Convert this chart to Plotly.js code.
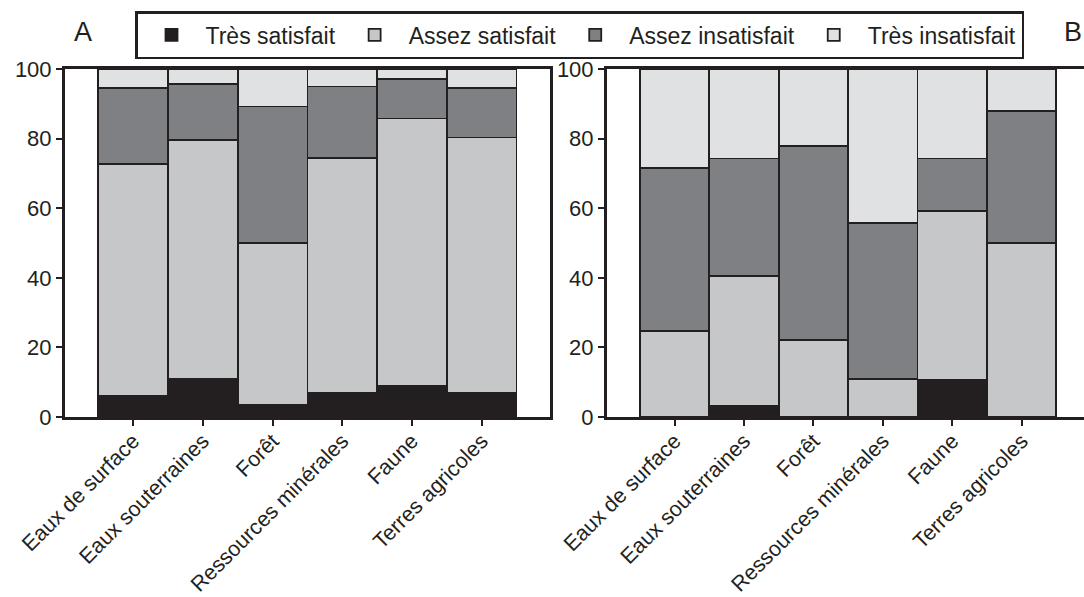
<!DOCTYPE html>
<html>
<head>
<meta charset="utf-8">
<script src="https://cdn.plot.ly/plotly-3.0.1.min.js"></script>
<style>html,body{margin:0;padding:0;background:#fff;}#chart{width:1084px;height:597px;}</style>
</head>
<body>
<div id="chart"></div>
<script>
const categories = ["Eaux de surface", "Eaux souterraines", "Forêt", "Ressources minérales", "Faune", "Terres agricoles"];
const seriesNames = ["Très satisfait", "Assez satisfait", "Assez insatisfait", "Très insatisfait"];

// Panel A
const aTresSatisfait    = [6.0, 11.0, 3.5, 6.9, 8.9, 6.9];
const aAssezSatisfait   = [66.7, 68.7, 46.5, 67.6, 76.9, 73.4];
const aAssezInsatisfait = [21.8, 16.0, 39.2, 20.5, 11.3, 14.2];
const aTresInsatisfait  = [5.5, 4.3, 10.8, 5.0, 2.9, 5.5];

// Panel B
const bTresSatisfait    = [0, 3.3, 0, 0, 10.8, 0];
const bAssezSatisfait   = [24.8, 37.3, 22.2, 11.0, 48.4, 50.1];
const bAssezInsatisfait = [46.8, 33.7, 55.7, 44.7, 15.1, 37.8];
const bTresInsatisfait  = [28.4, 25.7, 22.1, 44.3, 25.7, 12.1];

const yTicks = [0, 20, 40, 60, 80, 100];

const colors = ["#231f20", "#c6c7c9", "#7f8084", "#e0e1e3"];
const ink = "#231f20";
const font = "Liberation Sans, Arial, sans-serif";

const aSeries = [aTresSatisfait, aAssezSatisfait, aAssezInsatisfait, aTresInsatisfait];
const bSeries = [bTresSatisfait, bAssezSatisfait, bAssezInsatisfait, bTresInsatisfait];

const traces = [];
aSeries.forEach((vals, i) => {
  traces.push({
    type: "bar", x: categories, y: vals, name: seriesNames[i],
    legendgroup: seriesNames[i], showlegend: true,
    xaxis: "x", yaxis: "y",
    marker: {color: colors[i], line: {color: ink, width: 1.8}},
    hoverinfo: "skip"
  });
});
bSeries.forEach((vals, i) => {
  traces.push({
    type: "bar", x: categories, y: vals, name: seriesNames[i],
    legendgroup: seriesNames[i], showlegend: false,
    xaxis: "x2", yaxis: "y2",
    marker: {color: colors[i], line: {color: ink, width: 1.8}},
    hoverinfo: "skip"
  });
});

const xBase = {
  type: "category", showgrid: false, zeroline: false,
  showline: true, linecolor: ink, linewidth: 3, mirror: true,
  ticks: "outside", ticklen: 6, tickwidth: 2, tickcolor: ink,
  tickangle: -45, tickfont: {family: font, size: 21.5, color: ink},
  ticklabelstandoff: -6,
  automargin: false, fixedrange: true
};
const yBase = {
  range: [0, 100], tickvals: yTicks, showgrid: false, zeroline: false,
  showline: true, linecolor: ink, linewidth: 3,
  ticks: "outside", ticklen: 6, tickwidth: 2, tickcolor: ink,
  tickfont: {family: font, size: 22, color: ink},
  automargin: false, fixedrange: true
};

const layout = {
  width: 1084, height: 597,
  margin: {l: 0, r: 0, t: 69, b: 180},
  paper_bgcolor: "#fff", plot_bgcolor: "#fff",
  barmode: "stack", bargap: 0,
  font: {family: font, color: ink},
  xaxis: Object.assign({}, xBase, {domain: [65/1084, 550/1084], range: [-0.977, 5.98], anchor: "y"}),
  yaxis: Object.assign({}, yBase, {domain: [0, 1], anchor: "x", mirror: true}),
  xaxis2: Object.assign({}, xBase, {domain: [607/1084, 1], range: [-0.975, 5.898], anchor: "y2"}),
  yaxis2: Object.assign({}, yBase, {domain: [0, 1], anchor: "x2", mirror: false}),
  showlegend: true,
  legend: {
    orientation: "h", x: 0.5346, xanchor: "center", y: 1 - 11/597, yanchor: "top",
    yref: "container",
    bordercolor: ink, borderwidth: 2.5, bgcolor: "#fff",
    font: {family: font, size: 23, color: ink},
    itemwidth: 58, traceorder: "normal"
  },
  annotations: [
    {text: "A", xref: "paper", yref: "paper", x: 72/1084, y: 1 + (69 - 32) / 348, xanchor: "left", yanchor: "middle",
     showarrow: false, font: {family: font, size: 27, color: ink}},
    {text: "B", xref: "paper", yref: "paper", x: 1, y: 1 + (69 - 32) / 348, xanchor: "right", yanchor: "middle",
     showarrow: false, font: {family: font, size: 27, color: ink}}
  ]
};

Plotly.newPlot("chart", traces, layout, {staticPlot: true, displayModeBar: false});
</script>
</body>
</html>
